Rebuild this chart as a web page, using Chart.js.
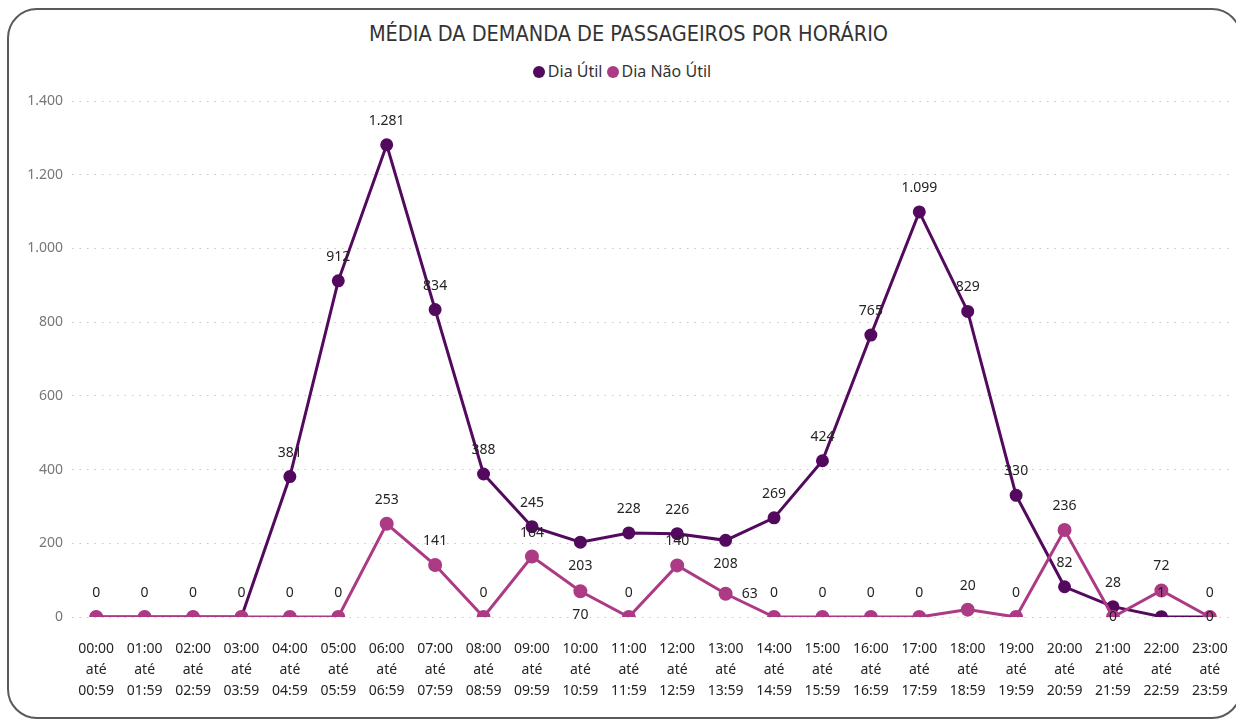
<!DOCTYPE html>
<html lang="pt-BR">
<head>
<meta charset="utf-8">
<title>Média da demanda de passageiros por horário</title>
<script src="https://cdn.jsdelivr.net/npm/chart.js@4.4.1/dist/chart.umd.min.js"></script>
<style>
    html, body { margin: 0; padding: 0; background: #fff; }
    body { width: 1236px; height: 720px; position: relative; overflow: hidden; font-family: "Segoe UI", "Noto Sans", sans-serif; }
    .card-frame {
        position: absolute; left: 7px; top: 8px; width: 1235px; height: 711px; box-sizing: border-box;
        border: 2px solid #5a5a5a; border-radius: 30px; pointer-events: none;
    }
    .chart-title {
        position: absolute; left: 0; width: 1257px; top: 21px; text-align: center;
        font-family: "DejaVu Sans Condensed", "DejaVu Sans", sans-serif; font-size: 21.5px; color: #333;
        line-height: 26px;
    }
    .chart-legend {
        position: absolute; left: 0; width: 1244px; top: 60px; text-align: center;
        font-size: 16px; color: #333; line-height: 22px;
    }
    .chart-legend span.item { display: inline-block; margin: 0 2px; }
    .chart-legend span.dot {
        display: inline-block; width: 12px; height: 12px; border-radius: 50%;
        vertical-align: -1px; margin-right: 3px;
    }
    #demandaChart { position: absolute; left: 0; top: 0; }
</style>
</head>
<body>
<div class="chart-title">MÉDIA DA DEMANDA DE PASSAGEIROS POR HORÁRIO</div>
<div class="chart-legend" id="chartLegend"></div>
<canvas id="demandaChart" width="1236" height="720"></canvas>
<div class="card-frame"></div>

<script>
// Faixas horárias (eixo X)
const horaInicio = ['00:00', '01:00', '02:00', '03:00', '04:00', '05:00', '06:00', '07:00', '08:00', '09:00', '10:00', '11:00',
    '12:00', '13:00', '14:00', '15:00', '16:00', '17:00', '18:00', '19:00', '20:00', '21:00', '22:00', '23:00'];
const horaFim = ['00:59', '01:59', '02:59', '03:59', '04:59', '05:59', '06:59', '07:59', '08:59', '09:59', '10:59', '11:59',
    '12:59', '13:59', '14:59', '15:59', '16:59', '17:59', '18:59', '19:59', '20:59', '21:59', '22:59', '23:59'];

// Média de passageiros por faixa
const diaUtil = [0, 0, 0, 0, 381, 912, 1281, 834, 388, 245, 203, 228, 226, 208, 269, 424, 765, 1099, 829, 330, 82, 28, 1, 0];
const diaNaoUtil = [0, 0, 0, 0, 0, 0, 253, 141, 0, 164, 70, 0, 140, 63, 0, 0, 0, 0, 20, 0, 236, 0, 72, 0];

// Escala do eixo Y
const yTicks = [0, 200, 400, 600, 800, 1000, 1200, 1400];

const COR_UTIL = '#530a5e';
const COR_NAO_UTIL = '#ac3a84';

// Rótulos que saem do padrão "acima do ponto" (encavalados ficam ocultos)
const posicaoRotulo = [
    { 0: 'none', 1: 'none', 2: 'none', 3: 'none', 10: 'below', 13: 'below', 23: 'center' },
    { 10: 'below', 13: 'right', 21: 'center' }
];

function formatBR(v) {
    return String(v).replace(/\B(?=(\d{3})+(?!\d))/g, '.');
}

const dataLabelsPlugin = {
    id: 'dataLabels',
    afterDatasetsDraw(chart) {
        const ctx = chart.ctx;
        ctx.save();
        ctx.font = '14px "Segoe UI", "Noto Sans", sans-serif';
        ctx.fillStyle = '#252423';
        ctx.textBaseline = 'middle';
        chart.data.datasets.forEach((ds, di) => {
            const meta = chart.getDatasetMeta(di);
            meta.data.forEach((pt, i) => {
                const pos = posicaoRotulo[di][i] || 'above';
                if (pos === 'none') return;
                let x = pt.x, y = pt.y;
                ctx.textAlign = 'center';
                if (pos === 'above') y -= 24;
                else if (pos === 'below') y += 24;
                else if (pos === 'right') { x += 16; ctx.textAlign = 'left'; }
                ctx.fillText(formatBR(ds.data[i]), x, y);
            });
        });
        ctx.restore();
    }
};

const datasets = [
    {
        label: 'Dia Útil', data: diaUtil, borderColor: COR_UTIL, backgroundColor: COR_UTIL,
        borderWidth: 3, pointRadius: 5, pointHoverRadius: 5, tension: 0, order: 1
    },
    {
        label: 'Dia Não Útil', data: diaNaoUtil, borderColor: COR_NAO_UTIL, backgroundColor: COR_NAO_UTIL,
        borderWidth: 3, pointRadius: 5.5, pointHoverRadius: 5.5, tension: 0, order: 0
    }
];

// Legenda em HTML, na ordem das séries
document.getElementById('chartLegend').innerHTML = datasets.map(d =>
    `<span class="item"><span class="dot" style="background:${d.borderColor}"></span>${d.label}</span>`
).join('');

new Chart(document.getElementById('demandaChart').getContext('2d'), {
    type: 'line',
    data: {
        labels: horaInicio.map((h, i) => [h, 'até', horaFim[i]]),
        datasets: datasets
    },
    options: {
        responsive: false,
        animation: false,
        layout: { autoPadding: false, padding: { top: 101, left: 0, right: 2, bottom: 0 } },
        scales: {
            x: {
                offset: true,
                afterFit(scale) { scale.height = 103; },
                // marcas invisíveis só para afastar os rótulos do eixo
                grid: { display: true, drawOnChartArea: false, drawTicks: true, tickLength: 22, color: 'rgba(0,0,0,0)' },
                border: { display: false },
                ticks: {
                    color: '#252423', padding: 0, maxRotation: 0, autoSkip: false,
                    font: { family: '"Segoe UI", "Noto Sans", sans-serif', size: 14, lineHeight: 1.5 }
                }
            },
            y: {
                min: 0, max: 1400,
                afterBuildTicks(scale) { scale.ticks = yTicks.map(v => ({ value: v })); },
                afterFit(scale) { scale.width = 72; },
                grid: { color: '#c8c8c8', lineWidth: 1, drawTicks: false },
                border: { display: false, dash: [1.5, 6] },
                ticks: {
                    color: '#777', padding: 9,
                    font: { family: '"Segoe UI", "Noto Sans", sans-serif', size: 14 },
                    callback: v => formatBR(v)
                }
            }
        },
        plugins: {
            legend: { display: false },
            title: { display: false },
            tooltip: { enabled: false }
        }
    },
    plugins: [dataLabelsPlugin]
});
</script>
</body>
</html>
